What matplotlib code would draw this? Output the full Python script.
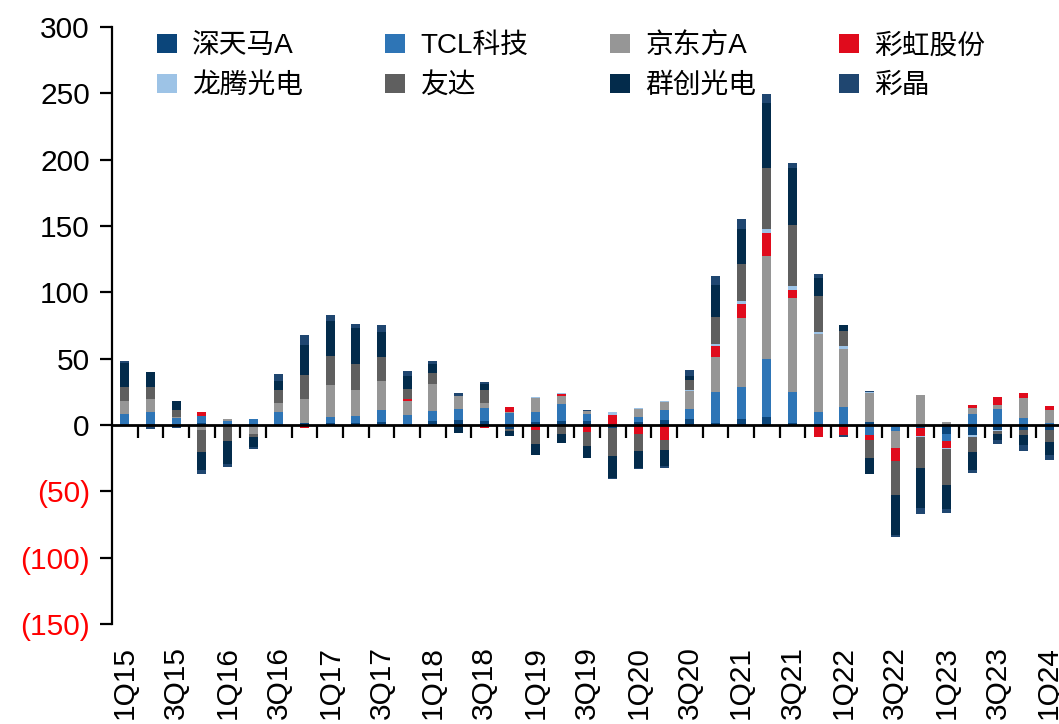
import numpy as np
import matplotlib
matplotlib.use("Agg")
import matplotlib.pyplot as plt
from matplotlib.patches import Patch

plt.rcParams["font.family"] = ["Liberation Sans", "Noto Sans CJK SC"]

quarters = ["1Q15", "2Q15", "3Q15", "4Q15", "1Q16", "2Q16", "3Q16", "4Q16",
            "1Q17", "2Q17", "3Q17", "4Q17", "1Q18", "2Q18", "3Q18", "4Q18",
            "1Q19", "2Q19", "3Q19", "4Q19", "1Q20", "2Q20", "3Q20", "4Q20",
            "1Q21", "2Q21", "3Q21", "4Q21", "1Q22", "2Q22", "3Q22", "4Q22",
            "1Q23", "2Q23", "3Q23", "4Q23", "1Q24"]

# values, one list per company
tianma = [0, 0.8, 0, 1.8, 0, 1.0, 0, 1.8, 1.8, 1.8, 2.5, 0, 3.3, 4.0, 3.3, -3.0,
          2.5, 3.3, 3.3, -2.0, 2.5, 4.0, 4.8, 1.8, 4.8, 6.3, 1.8, 1.0, 0, 2.5,
          0, -2.5, -6.5, -7.3, -3.5, -3.5, -3.5]
tcl = [8.0, 9.3, 5.0, 5.3, 3.3, 3.8, 10.0, 0, 4.5, 5.3, 9.0, 7.8, 7.5, 8.3, 9.8, 9.3,
       7.5, 12.8, 5.3, 0, 3.8, 7.5, 7.5, 23.4, 24.1, 43.7, 23.4, 9.0, 13.8, -7.3,
       -4.3, 0, -5.3, 8.5, 12.3, 5.5, 1.8]
boe = [10.5, 9.8, 0.8, -3.5, 1.5, -6.5, 6.8, 18.1, 24.1, 19.6, 21.9, 10.5, 20.4, 9.8,
       3.8, 0.8, 10.6, 6.0, 2.3, 0, 6.0, 6.0, 13.6, 26.4, 52.0, 77.6, 70.9, 58.8,
       43.7, 21.9, -12.8, 22.9, 2.5, 4.5, 3.0, 15.1, 9.8]
irico = [0, 0, 0, 3.0, 0, -0.5, 0, -2.5, 0, 0, 0, 1.5, 0, 0, -2.0, 3.8,
         -3.5, 1.5, -5.0, 7.8, -6.5, -11.1, 0, 8.3, 10.6, 17.3, 6.0, -8.8, -7.3, -3.8,
         -9.8, -5.5, -5.3, 2.3, 6.0, 3.8, 3.0]
ivo = [0, 0, 0, 0, 0, 0, 0, 0, 0, 0, 0, 0, 0, 0, 0, 0,
       0.8, 0.8, 0, 2.3, 0.8, 0.8, 0.8, 1.5, 2.3, 3.0, 3.0, 1.5, 2.3, 0.8,
       0, -0.8, -0.8, -1.5, -0.8, 0, 0]
auo = [10.5, 9.0, 5.8, -16.6, -11.8, -2.3, 9.8, 18.1, 21.9, 19.6, 18.1, 7.5, 8.3, 0,
       9.8, -1.5, -10.6, -6.5, -10.6, -21.1, -12.8, -7.5, 7.5, 20.4, 27.9, 46.0, 46.0,
       27.1, 11.3, -13.6, -25.6, -23.4, -27.1, -11.3, -2.3, -3.8, -9.0]
innolux = [17.5, 11.3, 6.8, -13.6, -17.3, -7.5, 6.8, 22.6, 26.4, 27.1, 18.8, 9.8, 6.8,
           -5.8, 4.5, -3.5, -8.3, -6.8, -9.0, -16.6, -12.8, -12.1, 3.0, 24.1, 26.4,
           49.0, 43.0, 13.6, 4.5, -12.1, -30.2, -30.2, -18.1, -13.6, -4.5, -7.5, -9.8]
hannstar = [1.5, -3.0, -2.5, -3.0, -2.3, -1.5, 5.3, 7.5, 4.5, 3.0, 5.3, 3.8, 2.3, 2.3,
            1.5, 0, 0, 0, 0.8, -0.8, -0.8, -1.5, 4.5, 6.8, 7.5, 6.8, 3.8, 3.0, -1.5,
            0.8, -1.5, -4.5, -3.0, -2.3, -3.0, -4.5, -3.8]

names = ["深天马A", "TCL科技", "京东方A", "彩虹股份", "龙腾光电", "友达", "群创光电", "彩晶"]
series = [tianma, tcl, boe, irico, ivo, auo, innolux, hannstar]
colors = ["#0B457A", "#2E75B6", "#969696", "#E00B1C", "#9DC3E6", "#5F5F5F",
          "#032B4B", "#1F4670"]

yticks = [-150, -100, -50, 0, 50, 100, 150, 200, 250, 300]


def main():
    fig = plt.figure(figsize=(10.59, 7.24), dpi=100)
    ax = fig.add_axes([0.1058, 0.138, 0.897, 0.8246])

    x = np.arange(len(quarters))
    pos_bottom = np.zeros(len(quarters))
    neg_bottom = np.zeros(len(quarters))
    for vals, color in zip(series, colors):
        v = np.array(vals, dtype=float)
        bottom = np.where(v >= 0, pos_bottom, neg_bottom)
        ax.bar(x, v, width=0.35, bottom=bottom, color=color, linewidth=0)
        pos_bottom += np.where(v > 0, v, 0)
        neg_bottom += np.where(v < 0, v, 0)

    ax.set_xlim(-0.5, len(quarters) - 0.5)
    ax.set_ylim(-150, 300)

    for side in ["top", "right"]:
        ax.spines[side].set_visible(False)
    ax.spines["bottom"].set_position(("data", 0))
    ax.spines["bottom"].set_linewidth(2.0)
    ax.spines["left"].set_linewidth(1.6)

    # category boundary ticks on the zero line
    ax.set_xticks(np.arange(len(quarters) - 1) + 0.5)
    ax.set_xticklabels([])
    ax.tick_params(axis="x", direction="out", length=9, width=1.6)

    ax.set_yticks(yticks)
    ylabels = [f"({abs(t)})" if t < 0 else str(t) for t in yticks]
    ax.set_yticklabels(ylabels, fontsize=21.5)
    ax.tick_params(axis="y", direction="out", length=9, width=1.6, pad=7)
    for lab, t in zip(ax.get_yticklabels(), yticks):
        lab.set_color("red" if t < 0 else "black")

    # quarter labels at the bottom of the axes
    sec = ax.secondary_xaxis("bottom")
    sec.spines["bottom"].set_visible(False)
    sec.set_xticks(x[::2])
    sec.set_xticklabels(quarters[::2], rotation=90, fontsize=21.5)
    sec.tick_params(axis="x", length=0, pad=16)

    # legend: row-wise order across 4 columns
    order = [0, 4, 1, 5, 2, 6, 3, 7]
    handles = [Patch(facecolor=colors[i], edgecolor="none") for i in order]
    labels = [names[i] for i in order]
    fig.legend(handles, labels, ncol=4, loc="upper left",
               bbox_to_anchor=(157 / 1059, 1 - 33 / 724),
               frameon=False, fontsize=20, handlelength=0.72, handleheight=0.72,
               handletextpad=0.55, columnspacing=2.95, labelspacing=0.5,
               borderpad=0, borderaxespad=0)

    fig.savefig("out.png", dpi=100)
    plt.close(fig)


if __name__ == "__main__":
    main()
